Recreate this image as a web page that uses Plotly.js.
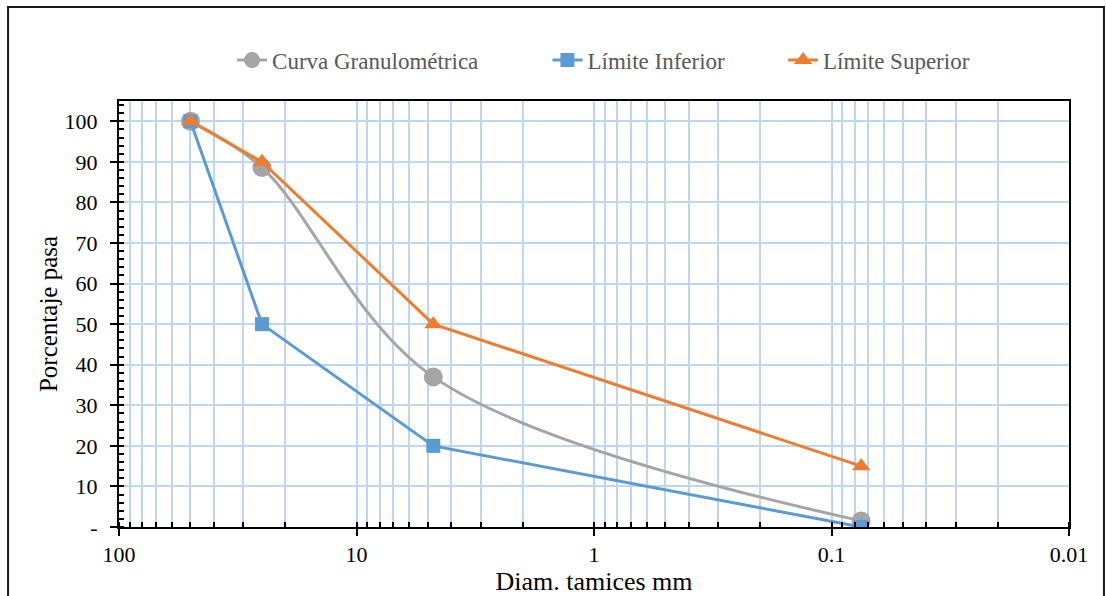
<!DOCTYPE html>
<html>
<head>
<meta charset="utf-8">
<script src="https://cdn.plot.ly/plotly-3.0.1.min.js"></script>
<style>html,body{margin:0;padding:0;background:#fff;}#chart{width:1106px;height:596px;}</style>
</head>
<body>
<div id="chart"></div>
<script>
const sieveDiam = [50, 25, 4.75, 0.075];
const curvaGranulometrica = [100, 88.6, 37, 1.5];
const limiteInferior = [100, 50, 20, 0];
const limiteSuperior = [100, 90, 50, 15];
const seriesNames = ['Curva Granulométrica', 'Límite Inferior', 'Límite Superior'];
const yTickVals = [0, 10, 20, 30, 40, 50, 60, 70, 80, 90, 100];
const yTickText = ['-', '10', '20', '30', '40', '50', '60', '70', '80', '90', '100'];
const xTickVals = [100, 10, 1, 0.1, 0.01];
const xTickText = ['100', '10', '1', '0.1', '0.01'];

const FONT = 'Liberation Serif';
const GRID = '#BDD7EE';

const traces = [
  {x: sieveDiam, y: curvaGranulometrica, name: seriesNames[0], type: 'scatter', mode: 'lines+markers',
   legend: 'legend',
   line: {color: '#A5A5A5', width: 3, shape: 'spline', smoothing: 1},
   marker: {symbol: 'circle', size: 19, color: '#A5A5A5'}},
  {x: sieveDiam, y: limiteInferior, name: seriesNames[1], type: 'scatter', mode: 'lines+markers',
   legend: 'legend2',
   line: {color: '#5B9BD5', width: 3},
   marker: {symbol: 'square', size: 14, color: '#5B9BD5'}},
  {x: sieveDiam, y: limiteSuperior, name: seriesNames[2], type: 'scatter', mode: 'lines+markers',
   legend: 'legend3',
   line: {color: '#ED7D31', width: 3},
   marker: {symbol: 'triangle-up', size: 16, color: '#ED7D31'}}
];

function leg(x) {
  return {orientation: 'h', x: x, xanchor: 'left', y: 1.096, yanchor: 'middle',
          bgcolor: 'rgba(0,0,0,0)', borderwidth: 0,
          font: {family: FONT, size: 23, color: '#595959'}};
}

const layout = {
  width: 1106, height: 596,
  margin: {l: 119, r: 37, t: 101, b: 69, pad: 0},
  paper_bgcolor: '#fff', plot_bgcolor: '#fff',
  font: {family: FONT, size: 22, color: '#000'},
  showlegend: true,
  legend: leg(0.119),
  legend2: leg(0.451),
  legend3: leg(0.699),
  xaxis: {
    type: 'log', range: [2, -2], autorange: false,
    tickmode: 'array', tickvals: xTickVals, ticktext: xTickText,
    ticks: 'outside', ticklen: 7, tickwidth: 2, tickcolor: '#000',
    showline: true, linecolor: '#000', linewidth: 2, mirror: true,
    showgrid: true, gridcolor: GRID, gridwidth: 2, zeroline: false,
    tickfont: {family: FONT, size: 22, color: '#000'},
    minor: {dtick: 'D1', showgrid: true, gridcolor: GRID, gridwidth: 2,
            ticks: 'inside', ticklen: 5, tickwidth: 2, tickcolor: '#000'},
    title: {text: 'Diam. tamices mm', font: {family: FONT, size: 26, color: '#000'}, standoff: 0}
  },
  yaxis: {
    range: [0, 105], autorange: false,
    tickmode: 'array', tickvals: yTickVals, ticktext: yTickText,
    ticks: 'outside', ticklen: 7, tickwidth: 2, tickcolor: '#000',
    ticklabelstandoff: 8,
    showline: true, linecolor: '#000', linewidth: 2, mirror: true,
    showgrid: true, gridcolor: GRID, gridwidth: 2, zeroline: false,
    tickfont: {family: FONT, size: 22, color: '#000'},
    minor: {dtick: 2, showgrid: false, ticks: 'inside', ticklen: 5, tickwidth: 2, tickcolor: '#000'},
    title: {text: 'Porcentaje pasa', font: {family: FONT, size: 25, color: '#000'}, standoff: 0}
  },
  shapes: [
    {type: 'rect', xref: 'paper', yref: 'paper', x0: -0.1168, x1: 1.0368, y0: -0.2, y1: 1.2207,
     line: {color: '#1a1a1a', width: 2}, fillcolor: 'rgba(0,0,0,0)', layer: 'below'}
  ]
};

Plotly.newPlot('chart', traces, layout, {staticPlot: true, displayModeBar: false}).then(function () {
  // ensure tick labels use the serif family at the intended size
  document.querySelectorAll('.xtick text, .ytick text').forEach(function (t) {
    t.style.fontFamily = "'Liberation Serif', serif";
    t.style.fontSize = '22px';
  });
});
</script>
</body>
</html>
